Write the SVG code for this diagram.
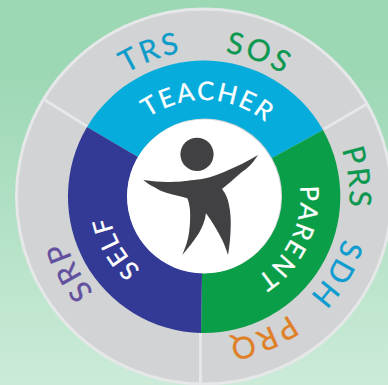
<svg xmlns="http://www.w3.org/2000/svg" xmlns:xlink="http://www.w3.org/1999/xlink" width="388" height="385" viewBox="0 0 388 385">
<style>
text{font-family:"Lato","Noto Sans",sans-serif}
.in{font-size:25.500px;fill:#fff;stroke:#fff;stroke-width:.3px;letter-spacing:2px;text-anchor:middle}
.out{font-size:30px;letter-spacing:2.500px;text-anchor:middle}
.sep{stroke:#e6e7e8;stroke-width:3;fill:none}
</style>
<defs>
<linearGradient id="bg" x1="0" y1="0" x2="0" y2="1"><stop offset="0.2" stop-color="#9dd8b5"/><stop offset="1" stop-color="#cbebd8"/></linearGradient>
<path id="r1" d="M107.500 196.500A96.500 96.500 0 0 1 300.500 196.500"/>
<path id="r2" d="M58.500 196.500A145.500 145.500 0 0 1 349.500 196.500"/>
</defs>
<rect width="388" height="385" fill="url(#bg)"/>
<g id="outer-ring"><circle cx="204" cy="196.500" r="187.500" fill="#d1d3d4" stroke="#e6e7e8" stroke-width="3"/></g>
<g id="connectors">
<path class="sep" d="M45 100L88 127M367 104L324 129M200.500 333V384"/>
</g>
<g id="teacher"><path d="M87 127A136.500 136.500 0 0 1 323 130L272 158A77 77 0 0 0 138 157Z" fill="#06acdc"/>
<text class="in" transform="rotate(2.500 204 196.500)"><textPath xlink:href="#r1" href="#r1" startOffset="50%">TEACHER</textPath></text></g>
<g id="parent"><path d="M323 130A136.500 136.500 0 0 1 201 333L202 273A77 77 0 0 0 272 158Z" fill="#0a9e48"/>
<text class="in" transform="rotate(116 204 196.500)"><textPath xlink:href="#r1" href="#r1" startOffset="50%">PARENT</textPath></text></g>
<g id="self"><path d="M201 333A136.500 136.500 0 0 1 87 127L138 157A77 77 0 0 0 202 273Z" fill="#323a96"/>
<text class="in" transform="rotate(-120 204 196.500)"><textPath xlink:href="#r1" href="#r1" startOffset="50%">SELF</textPath></text></g>
<g id="center"><circle cx="204" cy="196.500" r="77" fill="#fff"/>
<circle cx="197" cy="154.300" r="16.600" fill="#414042"/>
<path d="M143.300 180C152 181 160 182 167 182C178 182 186 181 194 180C205 179 215 176 224 172C236 167 248 161 258 155C253 163 248 168 240.700 173C234 179 228 184 222 189C226 194 228 199 229 205C230.500 212 231 220 230.700 227C230.500 237 229.500 246 228 255C226 249 224 243 220.700 237C216 228 211 220 206 213.300C205 221 202 228 199 233C194 241 188 248 182.300 255C185 248 188 241 189 233C190 225 190.500 217 190 210C189.500 205 188.500 201 187.300 198.300C180 196 173 195 167 193C162 191.500 158 189.500 154 187C150 185 146 182.500 143.300 180Z" fill="#414042"/></g>
<g id="trs"><text class="out" fill="#0d9cc9" stroke="#0d9cc9" stroke-width=".3" transform="rotate(-20.500 204 196.500)"><textPath xlink:href="#r2" href="#r2" startOffset="50%">TRS</textPath></text></g>
<g id="sos"><text class="out" fill="#0a9850" stroke="#0a9850" stroke-width=".3" transform="rotate(21 204 196.500)"><textPath xlink:href="#r2" href="#r2" startOffset="50%">SOS</textPath></text></g>
<g id="prs"><text class="out" fill="#0a9850" stroke="#0a9850" stroke-width=".3" transform="rotate(83 204 196.500)"><textPath xlink:href="#r2" href="#r2" startOffset="50%">PRS</textPath></text></g>
<g id="sdh"><text class="out" fill="#0d9cd0" stroke="#0d9cd0" stroke-width=".3" transform="rotate(120.500 204 196.500)"><textPath xlink:href="#r2" href="#r2" startOffset="50%">SDH</textPath></text></g>
<g id="prq"><text class="out" fill="#e08026" stroke="#e08026" stroke-width=".3" transform="rotate(157.500 204 196.500)"><textPath xlink:href="#r2" href="#r2" startOffset="50%">PRQ</textPath></text></g>
<g id="srp"><text class="out" fill="#62509e" stroke="#62509e" stroke-width=".3" transform="rotate(-119 204 196.500)"><textPath xlink:href="#r2" href="#r2" startOffset="50%">SRP</textPath></text></g>
</svg>
